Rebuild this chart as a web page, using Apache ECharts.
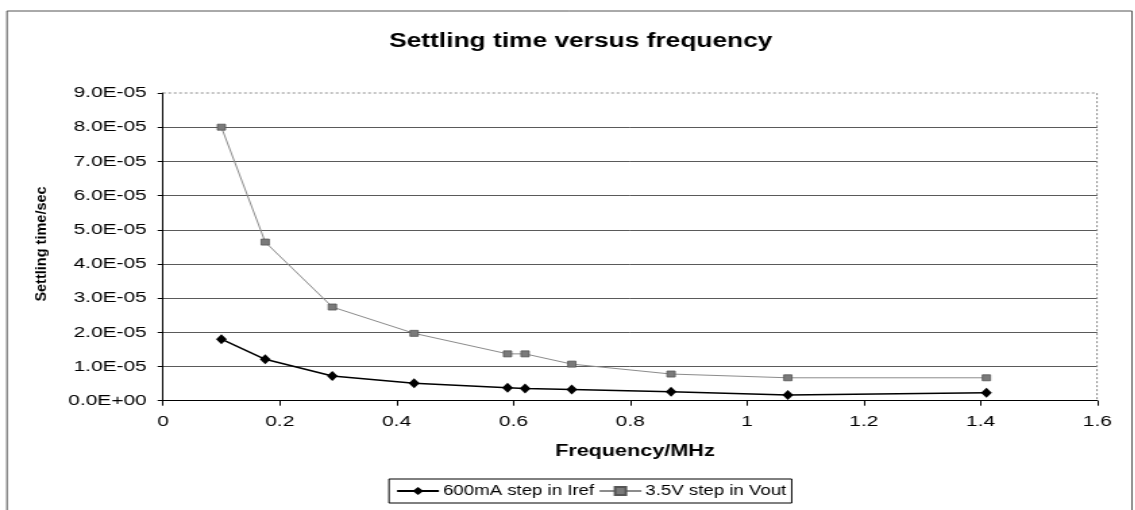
<!DOCTYPE html>
<html>
<head>
<meta charset="utf-8">
<script src="https://cdn.jsdelivr.net/npm/echarts@6/dist/echarts.min.js"></script>
<style>
  html, body { margin: 0; padding: 0; background: #fff; overflow: hidden; }
  #wrap { width: 1135px; height: 510px; overflow: hidden; }
  /* the chart is laid out on a narrower canvas and widened, giving the broad lettering */
  #chart { width: 840.7px; height: 510px; transform: scaleX(1.35); transform-origin: 0 0; }
</style>
</head>
<body>
<div id="wrap"><div id="chart"></div></div>
<script>
// Frequency in MHz
const freq = [0.1, 0.175, 0.29, 0.43, 0.59, 0.62, 0.70, 0.87, 1.07, 1.41];
// Settling time in seconds, 600mA step in Iref
const irefSettle = [1.80e-5, 1.21e-5, 7.2e-6, 5.1e-6, 3.8e-6, 3.6e-6, 3.3e-6, 2.6e-6, 1.7e-6, 2.3e-6];
// Settling time in seconds, 3.5V step in Vout
const voutSettle = [8.0e-5, 4.64e-5, 2.74e-5, 1.97e-5, 1.37e-5, 1.37e-5, 1.07e-5, 7.8e-6, 6.7e-6, 6.7e-6];

const seriesNames = ['600mA step in Iref', '3.5V step in Vout'];
const titleText = 'Settling time versus frequency';
const xName = 'Frequency/MHz';
const yName = 'Settling time/sec';

const FONT = '"Liberation Sans", Arial, sans-serif';
const SX = 1.35;            // horizontal widening applied to the canvas
const W = 1135 / SX, H = 510;

// 9e-5 -> "9.0E-05", 0 -> "0.0E+00"
function sci(v) {
  const parts = v.toExponential(1).split('e');
  const ex = parseInt(parts[1], 10);
  const sign = ex < 0 ? '-' : '+';
  const mag = String(Math.abs(ex)).padStart(2, '0');
  return parts[0] + 'E' + sign + mag;
}

const pairs = (xs, ys) => xs.map((x, i) => [x, ys[i]]);

const chart = echarts.init(document.getElementById('chart'));
const gridL = 163 / SX, gridR = (1135 - 1097) / SX, gridT = 93, gridB = 109.3;

chart.setOption({
  backgroundColor: '#fff',
  animation: false,
  title: {
    text: titleText,
    left: 574 / SX, top: 27, textAlign: 'center',
    textStyle: { fontFamily: FONT, fontSize: 19.5, fontWeight: 'bold', color: '#000' }
  },
  grid: { left: gridL, right: gridR, top: gridT, bottom: gridB },
  legend: {
    data: seriesNames,
    left: 389 / SX, top: 479,
    padding: [5, 4, 5, 5],
    itemGap: 3,
    itemWidth: 31, itemHeight: 10,
    borderColor: '#000', borderWidth: 1, borderRadius: 0,
    textStyle: { fontFamily: FONT, fontSize: 13.8, color: '#000', padding: [0, 0, 0, -2] }
  },
  xAxis: {
    type: 'value',
    min: 0, max: 1.6, interval: 0.2,
    name: xName, nameLocation: 'middle', nameGap: 43,
    nameTextStyle: { fontFamily: FONT, fontSize: 16, fontWeight: 'bold', color: '#000', padding: [0, 0, 0, 7] },
    axisLine: { show: true, lineStyle: { color: '#000', width: 1 } },
    axisTick: { show: true, length: 5, lineStyle: { color: '#000' } },
    axisLabel: { fontFamily: FONT, fontSize: 15.5, color: '#000', margin: 13 },
    splitLine: { show: false }
  },
  yAxis: {
    type: 'value',
    min: 0, max: 9e-5, interval: 1e-5,
    axisLine: { show: true, lineStyle: { color: '#000', width: 1 } },
    axisTick: { show: true, length: 4, lineStyle: { color: '#000' } },
    axisLabel: { fontFamily: FONT, fontSize: 15.5, color: '#000', margin: 12, formatter: sci },
    splitLine: { show: true, showMaxLine: false, lineStyle: { color: '#5a5a5a', width: 1 } }
  },
  graphic: [
    // outer chart frame
    { type: 'rect', shape: { x: 7 / SX, y: 11, width: (1132 - 7) / SX, height: 520 },
      style: { fill: 'none', stroke: '#555', lineWidth: 1 }, silent: true, z: -1 },
    // dotted plot-area border, top and right
    { type: 'polyline', shape: { points: [[gridL, gridT], [W - gridR, gridT], [W - gridR, H - gridB]] },
      style: { fill: 'none', stroke: '#888', lineWidth: 1, lineDash: [2, 2] }, silent: true, z: 1 },
    // vertical axis title, kept narrow so the widening does not thicken it
    { type: 'text', x: 42 / SX, y: 244, rotation: Math.PI / 2, scaleY: 1 / SX,
      style: { text: yName, fontFamily: FONT, fontSize: 14.5, fontWeight: 'bold', fill: '#000',
               align: 'center', verticalAlign: 'middle' }, silent: true }
  ],
  series: [
    {
      name: seriesNames[0], type: 'line',
      data: pairs(freq, irefSettle),
      symbol: 'diamond', symbolSize: [8, 10],
      itemStyle: { color: '#000' },
      lineStyle: { color: '#000', width: 1.5 },
      z: 3
    },
    {
      name: seriesNames[1], type: 'line',
      data: pairs(freq, voutSettle),
      symbol: 'rect', symbolSize: [6, 6],
      itemStyle: { color: '#7a7a7a', borderColor: '#555', borderWidth: 0.8 },
      lineStyle: { color: '#8c8c8c', width: 1 },
      z: 2
    }
  ]
});
</script>
</body>
</html>
